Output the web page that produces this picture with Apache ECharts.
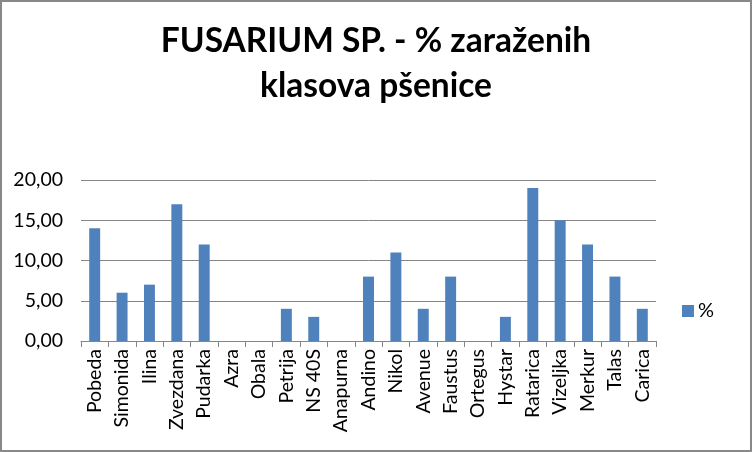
<!DOCTYPE html>
<html><head><meta charset="utf-8">
<script src="https://cdn.jsdelivr.net/npm/echarts@6/dist/echarts.min.js"></script>
<style>html,body{margin:0;padding:0;background:#fff}#c{width:752px;height:452px;box-sizing:border-box;border:2px solid #888}</style>
</head><body><div id="c"></div>
<script>
const categories = ["Pobeda","Simonida","Ilina","Zvezdana","Pudarka","Azra","Obala","Petrija","NS 40S","Anapurna","Andino","Nikol","Avenue","Faustus","Ortegus","Hystar","Ratarica","Vizeljka","Merkur","Talas","Carica"];
const values = [14,6,7,17,12,0,0,4,3,0,8,11,4,8,0,3,19,15,12,8,4];
const seriesName = "%";
const titleLines = ["FUSARIUM SP. - % zaraženih", "klasova pšenice"];

const chart = echarts.init(document.getElementById('c'));
chart.setOption({
  animation:false,
  title:{text:titleLines.join('\n'), left:'center', top:12,
    textStyle:{fontFamily:'Lato', fontWeight:'bold', fontSize:33.5, color:'#000', lineHeight:45}},
  legend:{data:[seriesName], right:31, top:294, orient:'vertical', itemWidth:12, itemHeight:12, itemGap:4,
    icon:'rect',
    textStyle:{fontFamily:'Lato', fontSize:20, color:'#000', padding:[0,0,0,-1]}},
  grid:{left:79, right:94, top:178, bottom:109, containLabel:false},
  xAxis:{type:'category', data:categories,
    axisLine:{lineStyle:{color:'#868686'}},
    axisTick:{show:true, alignWithLabel:false, length:6, lineStyle:{color:'#868686'}},
    axisLabel:{rotate:90, interval:0, fontFamily:'Lato', fontSize:19.5, color:'#000', margin:8}},
  yAxis:{type:'value', min:0, max:20, interval:5,
    axisLine:{show:false}, axisTick:{show:false},
    splitLine:{lineStyle:{color:'#868686'}},
    axisLabel:{fontFamily:'Lato', fontSize:19.5, color:'#000', margin:18,
      formatter:v=>v.toFixed(2).replace('.',',')}},
  series:[{name:seriesName, type:'bar', data:values, barWidth:'40%',
    itemStyle:{color:'#4F81BD'}}]
});
</script></body></html>
